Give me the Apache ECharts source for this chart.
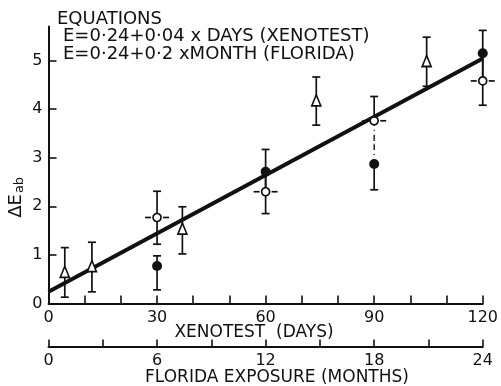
<!DOCTYPE html>
<html><head><meta charset="utf-8">
<script src="https://cdn.jsdelivr.net/npm/echarts@6/dist/echarts.min.js"></script>
<style>html,body{margin:0;padding:0;background:#fff}#chart{width:501px;height:386px}</style>
</head><body><div id="chart"></div>
<script>
const FONT = '"DejaVu Sans", sans-serif';
const INK = '#111';

// Xenotest exposure, open triangles (days)
const xenoDays = [4.5, 12, 37, 74, 104.5];
const xenoE = [0.65, 0.77, 1.54, 4.18, 4.99];
const xenoLow = [0.13, 0.24, 1.02, 3.67, 4.47];
const xenoHigh = [1.15, 1.26, 1.99, 4.66, 5.48];

// open circles (days)
const openDays = [30, 60, 90, 120];
const openE = [1.77, 2.30, 3.76, 4.58];
const openLow = [1.22, 1.85, 3.23, 4.08];
const openHigh = [2.31, 2.75, 4.26, 5.08];

// Florida exposure, filled circles (months)
const floridaMonths = [6, 12, 18, 24];
const floridaE = [0.77, 2.71, 2.87, 5.15];
const floridaLow = [0.28, 2.28, 2.34, 4.68];
const floridaHigh = [0.98, 3.17, 3.38, 5.62];

// fitted line E = 0.24 + 0.04 x DAYS
const fitIntercept = 0.24;
const fitSlopePerDay = 0.04;
const fitDays = [0, 120];

const yTicks = [0, 1, 2, 3, 4, 5];
const dayLabels = [0, 30, 60, 90, 120];
const monthLabels = [0, 6, 12, 18, 24];
const DAYS_PER_MONTH = 5;
const dashedJoinDays = [90];

function rows(xs, es, lows, highs, toDays) {
  return xs.map((x, i) => ({ x, days: x * toDays, e: es[i], low: lows[i], high: highs[i] }));
}
const groups = {
  xeno: rows(xenoDays, xenoE, xenoLow, xenoHigh, 1),
  open: rows(openDays, openE, openLow, openHigh, 1),
  florida: rows(floridaMonths, floridaE, floridaLow, floridaHigh, DAYS_PER_MONTH)
};
// where two bars share a column and overlap, join them without caps
Object.keys(groups).forEach(k => {
  groups[k].forEach(r => {
    Object.keys(groups).forEach(k2 => {
      if (k2 === k) return;
      groups[k2].forEach(o => {
        if (Math.abs(o.days - r.days) > 1) return;
        if (o.low > r.high || o.high < r.low) return;
        const dashed = dashedJoinDays.indexOf(Math.round(r.days)) >= 0;
        if (o.e > r.e) { r.innerHigh = true; r.dashHigh = dashed; }
        else { r.innerLow = true; r.dashLow = dashed; }
      });
    });
  });
});

function barRenderer(list, sideDashes) {
  return function (params, api) {
    const r = list[params.dataIndex];
    const xv = api.value(0);
    const pl = api.coord([xv, api.value(1)]);
    const ph = api.coord([xv, api.value(2)]);
    const pm = api.coord([xv, api.value(3)]);
    const base = { stroke: INK, lineWidth: 1.7, fill: null };
    const dash = { stroke: INK, lineWidth: 1.4, fill: null, lineDash: [5, 4, 1, 4] };
    const ch = [];
    ch.push({ type: 'line', shape: { x1: pm[0], y1: pm[1], x2: pl[0], y2: pl[1] }, style: r.dashLow ? dash : base });
    ch.push({ type: 'line', shape: { x1: pm[0], y1: pm[1], x2: ph[0], y2: ph[1] }, style: r.dashHigh ? dash : base });
    if (!r.innerLow) ch.push({ type: 'line', shape: { x1: pl[0] - 4, y1: pl[1], x2: pl[0] + 4, y2: pl[1] }, style: base });
    if (!r.innerHigh) ch.push({ type: 'line', shape: { x1: ph[0] - 4, y1: ph[1], x2: ph[0] + 4, y2: ph[1] }, style: base });
    if (sideDashes) {
      ch.push({ type: 'line', shape: { x1: pm[0] - 12, y1: pm[1], x2: pm[0] - 6, y2: pm[1] }, style: base });
      ch.push({ type: 'line', shape: { x1: pm[0] + 6, y1: pm[1], x2: pm[0] + 12, y2: pm[1] }, style: base });
    }
    return { type: 'group', children: ch };
  };
}
function barData(list) { return list.map(r => [r.x, r.low, r.high, r.e]); }

const axisText = { color: INK, fontFamily: FONT, fontSize: 16 };
const chart = echarts.init(document.getElementById('chart'), null, { renderer: 'canvas' });
chart.setOption({
  animation: false,
  backgroundColor: '#fff',
  grid: { left: 48.5, right: 15.5, top: 26.5, bottom: 82.5 },
  xAxis: [
    {
      type: 'value', min: 0, max: 120, interval: 10, position: 'bottom',
      axisLine: { onZero: false, lineStyle: { color: INK, width: 2 } },
      axisTick: { inside: true, length: 8, lineStyle: { color: INK, width: 1.6 } },
      axisLabel: Object.assign({ margin: 6, customValues: dayLabels,
        formatter: v => dayLabels.indexOf(v) >= 0 ? String(v) : '' }, axisText),
      splitLine: { show: false }
    },
    {
      type: 'value', min: 0, max: 24, interval: 3, position: 'bottom', offset: 43,
      axisLine: { onZero: false, lineStyle: { color: INK, width: 2 } },
      axisTick: { inside: true, length: 7, lineStyle: { color: INK, width: 1.6 } },
      axisLabel: Object.assign({ margin: 6, customValues: monthLabels,
        formatter: v => monthLabels.indexOf(v) >= 0 ? String(v) : '' }, axisText),
      splitLine: { show: false }
    }
  ],
  yAxis: {
    type: 'value', min: 0, max: 5.7, interval: 1,
    axisLine: { onZero: false, lineStyle: { color: INK, width: 2 } },
    axisTick: { inside: true, length: 8, customValues: yTicks, lineStyle: { color: INK, width: 1.6 } },
    axisLabel: Object.assign({ margin: 6, customValues: yTicks,
      formatter: v => yTicks.indexOf(v) >= 0 ? String(v) : '' }, axisText),
    splitLine: { show: false }
  },
  graphic: [
    { type: 'text', x: 57, y: 19.5, style: { text: 'EQUATIONS', font: '18px ' + FONT, fill: INK, textVerticalAlign: 'middle' } },
    { type: 'text', x: 63, y: 36, style: { text: 'E=0·24+0·04 x DAYS (XENOTEST)', font: '18px ' + FONT, fill: INK, textVerticalAlign: 'middle' } },
    { type: 'text', x: 63, y: 54, style: { text: 'E=0·24+0·2 xMONTH (FLORIDA)', font: '18px ' + FONT, fill: INK, textVerticalAlign: 'middle' } },
    { type: 'text', x: 254, y: 332.5, style: { text: 'XENOTEST  (DAYS)', font: '17px ' + FONT, fill: INK, textAlign: 'center', textVerticalAlign: 'middle' } },
    { type: 'text', x: 277, y: 377.5, style: { text: 'FLORIDA EXPOSURE (MONTHS)', font: '17px ' + FONT, fill: INK, textAlign: 'center', textVerticalAlign: 'middle' } },
    { type: 'text', x: 16, y: 206, rotation: Math.PI / 2, style: { text: 'ΔE', font: '18px ' + FONT, fill: INK, textAlign: 'center', textVerticalAlign: 'middle' } },
    { type: 'text', x: 20, y: 185, rotation: Math.PI / 2, style: { text: 'ab', font: '13px ' + FONT, fill: INK, textAlign: 'center', textVerticalAlign: 'middle' } }
  ],
  series: [
    { type: 'custom', xAxisIndex: 0, z: 2, silent: true, renderItem: barRenderer(groups.xeno, false), data: barData(groups.xeno) },
    { type: 'custom', xAxisIndex: 0, z: 2, silent: true, renderItem: barRenderer(groups.open, true), data: barData(groups.open) },
    { type: 'custom', xAxisIndex: 1, z: 2, silent: true, renderItem: barRenderer(groups.florida, false), data: barData(groups.florida) },
    {
      type: 'line', xAxisIndex: 0, z: 3, silent: true, symbol: 'none',
      lineStyle: { color: INK, width: 4 },
      data: fitDays.map(d => [d, fitIntercept + fitSlopePerDay * d])
    },
    {
      type: 'scatter', xAxisIndex: 0, z: 5, silent: true, symbol: 'triangle', symbolSize: [9, 11],
      itemStyle: { color: '#fff', borderColor: INK, borderWidth: 1.7, opacity: 1 },
      data: xenoDays.map((d, i) => [d, xenoE[i]])
    },
    {
      type: 'scatter', xAxisIndex: 0, z: 5, silent: true, symbol: 'circle', symbolSize: 8,
      itemStyle: { color: '#fff', borderColor: INK, borderWidth: 1.7, opacity: 1 },
      data: openDays.map((d, i) => [d, openE[i]])
    },
    {
      type: 'scatter', xAxisIndex: 1, z: 5, silent: true, symbol: 'circle', symbolSize: 10,
      itemStyle: { color: INK, borderColor: INK, borderWidth: 0, opacity: 1 },
      data: floridaMonths.map((m, i) => [m, floridaE[i]])
    }
  ]
});
</script></body></html>
